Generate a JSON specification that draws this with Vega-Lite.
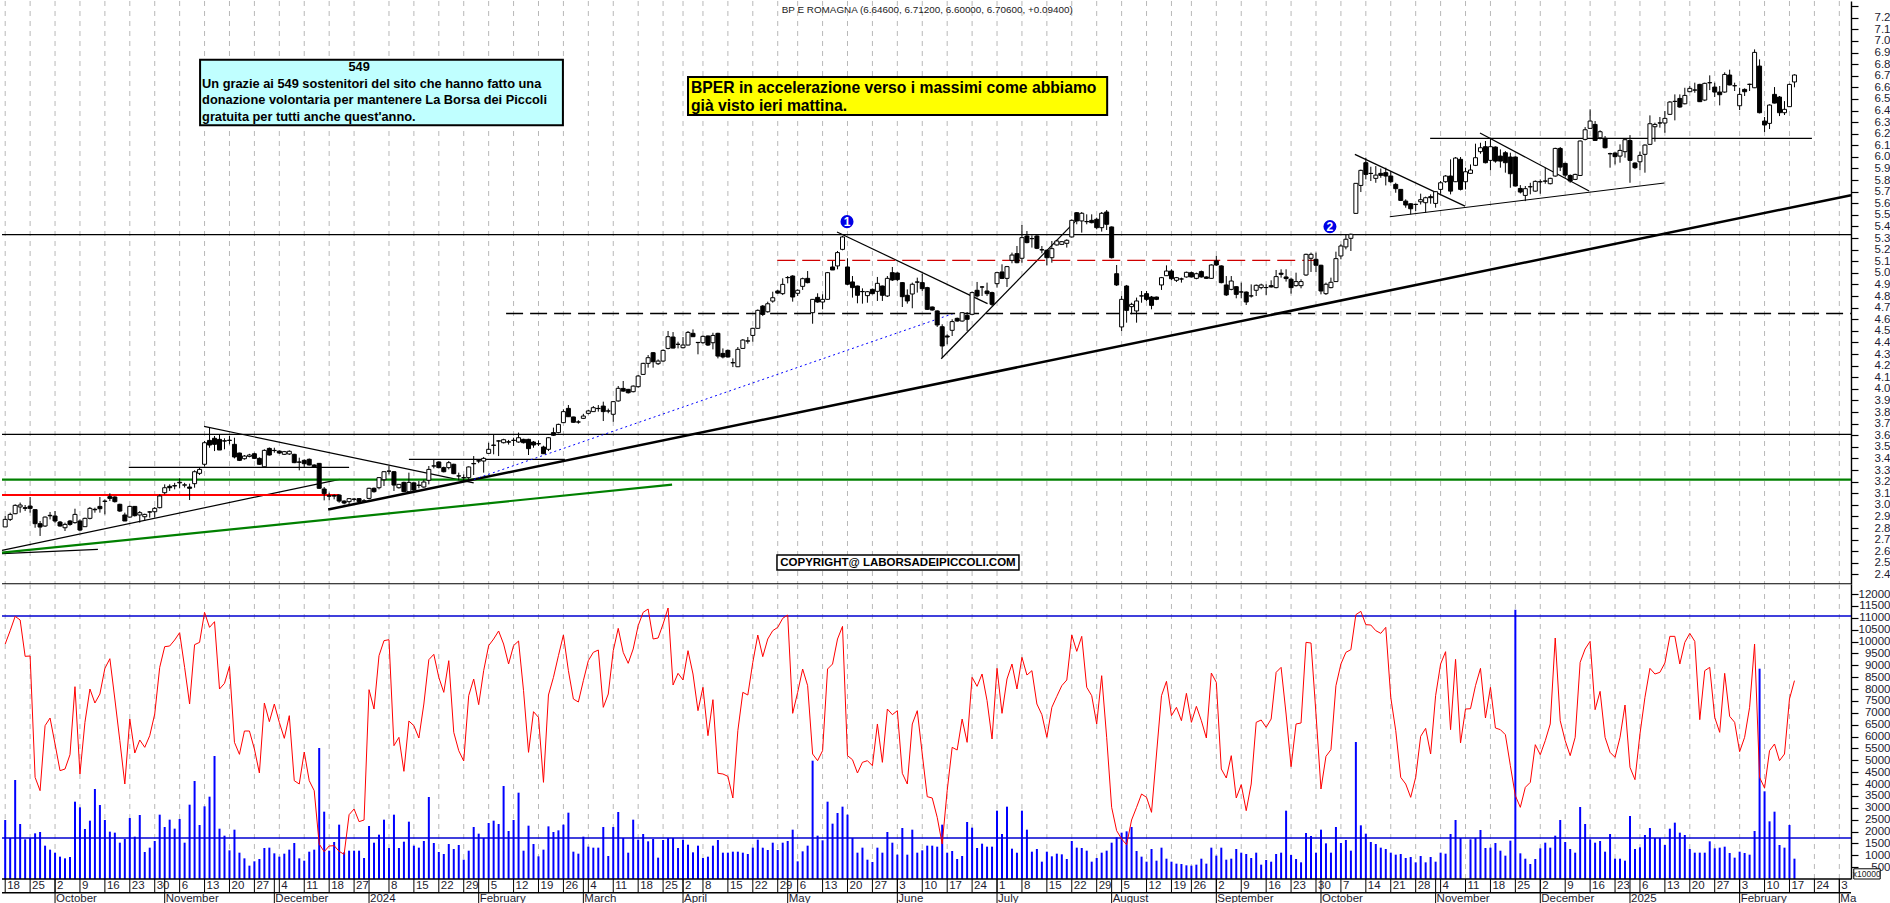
{"$schema":"https://vega.github.io/schema/vega-lite/v6.json","padding":0,"background":"white","spacing":0,"bounds":"flush","config":{"view":{"stroke":null},"text":{"font":"Liberation Sans"},"scale":{"continuousPadding":0}},
"datasets":{
"bars":[
{"i":0,"o":2.81,"h":2.904,"l":2.81,"c":2.875,"s":9898,"v":2485},{"i":1,"o":2.875,"h":2.933,"l":2.861,"c":2.918,"s":10460,"v":1727},{"i":2,"o":2.924,"h":3.005,"l":2.92,"c":2.996,"s":11063,"v":4170},{"i":3,"o":2.982,"h":3.02,"l":2.933,"c":2.999,"s":10909,"v":2317},{"i":4,"o":2.976,"h":2.999,"l":2.947,"c":2.97,"s":9379,"v":1671},{"i":5,"o":2.99,"h":3.068,"l":2.933,"c":2.97,"s":9393,"v":1727},{"i":6,"o":2.959,"h":2.959,"l":2.803,"c":2.838,"s":4282,"v":1923},{"i":7,"o":2.838,"h":2.861,"l":2.732,"c":2.809,"s":3721,"v":1980},{"i":8,"o":2.818,"h":2.9,"l":2.81,"c":2.895,"s":6458,"v":1404},{"i":9,"o":2.91,"h":2.939,"l":2.875,"c":2.906,"s":6781,"v":1236},
{"i":10,"o":2.904,"h":2.947,"l":2.847,"c":2.861,"s":5686,"v":1109},{"i":11,"o":2.852,"h":2.861,"l":2.812,"c":2.818,"s":4563,"v":941},{"i":12,"o":2.803,"h":2.847,"l":2.775,"c":2.832,"s":4633,"v":870},{"i":13,"o":2.861,"h":2.87,"l":2.82,"c":2.832,"s":5237,"v":927},{"i":14,"o":2.847,"h":2.967,"l":2.838,"c":2.918,"s":8101,"v":3257},{"i":15,"o":2.861,"h":2.875,"l":2.775,"c":2.783,"s":4423,"v":3019},{"i":16,"o":2.812,"h":2.89,"l":2.81,"c":2.884,"s":6599,"v":2106},{"i":17,"o":2.884,"h":2.982,"l":2.875,"c":2.97,"s":8003,"v":2457},{"i":18,"o":2.962,"h":2.976,"l":2.933,"c":2.958,"s":7413,"v":3791},{"i":19,"o":2.987,"h":3.068,"l":2.933,"c":2.967,"s":7792,"v":3117},
{"i":20,"o":3.033,"h":3.048,"l":2.918,"c":3.03,"s":8873,"v":2485},{"i":21,"o":3.071,"h":3.1,"l":3.033,"c":3.056,"s":9280,"v":1994},{"i":22,"o":3.068,"h":3.075,"l":3.02,"c":3.028,"s":7582,"v":1952},{"i":23,"o":3.005,"h":3.01,"l":2.94,"c":2.947,"s":5827,"v":1530},{"i":24,"o":2.913,"h":2.933,"l":2.861,"c":2.861,"s":4001,"v":1685},{"i":25,"o":2.895,"h":2.993,"l":2.89,"c":2.987,"s":6739,"v":2569},{"i":26,"o":2.987,"h":2.99,"l":2.9,"c":2.907,"s":5307,"v":1783},{"i":27,"o":2.913,"h":2.947,"l":2.847,"c":2.933,"s":5855,"v":2696},{"i":28,"o":2.898,"h":2.924,"l":2.861,"c":2.918,"s":5546,"v":1137},{"i":29,"o":2.94,"h":2.947,"l":2.89,"c":2.938,"s":6037,"v":1320},
{"i":30,"o":2.941,"h":2.982,"l":2.89,"c":2.97,"s":6950,"v":1601},{"i":31,"o":2.976,"h":3.091,"l":2.97,"c":3.077,"s":8915,"v":2710},{"i":32,"o":3.105,"h":3.177,"l":3.091,"c":3.148,"s":9786,"v":2190},{"i":33,"o":3.16,"h":3.177,"l":3.12,"c":3.148,"s":9814,"v":2499},{"i":34,"o":3.166,"h":3.19,"l":3.134,"c":3.163,"s":10067,"v":2120},{"i":35,"o":3.19,"h":3.229,"l":3.143,"c":3.195,"s":10376,"v":2527},{"i":36,"o":3.17,"h":3.19,"l":3.15,"c":3.173,"s":8915,"v":1530},{"i":37,"o":3.154,"h":3.183,"l":3.042,"c":3.143,"s":7371,"v":3131},{"i":38,"o":3.183,"h":3.298,"l":3.148,"c":3.286,"s":9870,"v":4128},{"i":39,"o":3.272,"h":3.327,"l":3.258,"c":3.306,"s":9968,"v":2274},
{"i":40,"o":3.35,"h":3.551,"l":3.33,"c":3.536,"s":11232,"v":3061},{"i":41,"o":3.556,"h":3.671,"l":3.493,"c":3.516,"s":10600,"v":3468},{"i":42,"o":3.574,"h":3.594,"l":3.464,"c":3.522,"s":10839,"v":5181},{"i":43,"o":3.565,"h":3.608,"l":3.473,"c":3.473,"s":8003,"v":2120},{"i":44,"o":3.553,"h":3.574,"l":3.479,"c":3.55,"s":8241,"v":1825},{"i":45,"o":3.558,"h":3.594,"l":3.522,"c":3.555,"s":8958,"v":1207},{"i":46,"o":3.522,"h":3.579,"l":3.401,"c":3.413,"s":5756,"v":2078},{"i":47,"o":3.447,"h":3.45,"l":3.378,"c":3.384,"s":5251,"v":1109},{"i":48,"o":3.398,"h":3.43,"l":3.39,"c":3.421,"s":6234,"v":870},{"i":49,"o":3.418,"h":3.44,"l":3.41,"c":3.43,"s":6234,"v":562},
{"i":50,"o":3.441,"h":3.45,"l":3.395,"c":3.401,"s":5476,"v":744},{"i":51,"o":3.401,"h":3.41,"l":3.345,"c":3.35,"s":4465,"v":842},{"i":52,"o":3.329,"h":3.479,"l":3.327,"c":3.47,"s":7413,"v":1306},{"i":53,"o":3.487,"h":3.495,"l":3.425,"c":3.43,"s":6627,"v":1320},{"i":54,"o":3.47,"h":3.493,"l":3.45,"c":3.468,"s":7371,"v":1081},{"i":55,"o":3.464,"h":3.47,"l":3.44,"c":3.447,"s":6599,"v":941},{"i":56,"o":3.436,"h":3.465,"l":3.43,"c":3.459,"s":5925,"v":1067},{"i":57,"o":3.439,"h":3.47,"l":3.43,"c":3.462,"s":6880,"v":1236},{"i":58,"o":3.436,"h":3.44,"l":3.36,"c":3.364,"s":4142,"v":1516},{"i":59,"o":3.37,"h":3.407,"l":3.298,"c":3.368,"s":4001,"v":870},
{"i":60,"o":3.384,"h":3.393,"l":3.327,"c":3.355,"s":5349,"v":772},{"i":61,"o":3.393,"h":3.4,"l":3.34,"c":3.344,"s":4142,"v":1151},{"i":62,"o":3.344,"h":3.35,"l":3.32,"c":3.327,"s":3721,"v":1236},{"i":63,"o":3.358,"h":3.36,"l":3.14,"c":3.143,"s":1474,"v":5518},{"i":64,"o":3.137,"h":3.154,"l":3.039,"c":3.097,"s":1151,"v":2836},{"i":65,"o":3.078,"h":3.105,"l":3.039,"c":3.075,"s":1390,"v":1193},{"i":66,"o":3.08,"h":3.091,"l":3.048,"c":3.076,"s":1404,"v":1558},{"i":67,"o":3.085,"h":3.091,"l":3.019,"c":3.033,"s":1165,"v":2289},{"i":68,"o":3.033,"h":3.039,"l":3.005,"c":3.016,"s":1039,"v":1123},{"i":69,"o":3.028,"h":3.056,"l":2.999,"c":3.054,"s":2710,"v":1193},
{"i":70,"o":3.05,"h":3.06,"l":3.03,"c":3.048,"s":2948,"v":1193},{"i":71,"o":3.054,"h":3.058,"l":3.02,"c":3.028,"s":2415,"v":1193},{"i":72,"o":3.035,"h":3.05,"l":3.02,"c":3.033,"s":2485,"v":885},{"i":73,"o":3.056,"h":3.148,"l":3.048,"c":3.143,"s":7975,"v":2232},{"i":74,"o":3.143,"h":3.15,"l":3.105,"c":3.114,"s":7160,"v":1530},{"i":75,"o":3.148,"h":3.24,"l":3.134,"c":3.235,"s":9407,"v":1867},{"i":76,"o":3.217,"h":3.292,"l":3.163,"c":3.286,"s":10039,"v":2499},{"i":77,"o":3.29,"h":3.335,"l":3.263,"c":3.292,"s":10081,"v":1306},{"i":78,"o":3.286,"h":3.292,"l":3.12,"c":3.171,"s":5616,"v":2710},{"i":79,"o":3.148,"h":3.18,"l":3.14,"c":3.177,"s":5967,"v":1306},
{"i":80,"o":3.194,"h":3.2,"l":3.11,"c":3.114,"s":4535,"v":1572},{"i":81,"o":3.114,"h":3.278,"l":3.105,"c":3.194,"s":6655,"v":2415},{"i":82,"o":3.19,"h":3.195,"l":3.12,"c":3.128,"s":6458,"v":1404},{"i":83,"o":3.17,"h":3.206,"l":3.143,"c":3.168,"s":5939,"v":1320},{"i":84,"o":3.154,"h":3.217,"l":3.148,"c":3.197,"s":7371,"v":1601},{"i":85,"o":3.212,"h":3.335,"l":3.177,"c":3.306,"s":9238,"v":3454},{"i":86,"o":3.336,"h":3.393,"l":3.315,"c":3.335,"s":9463,"v":1516},{"i":87,"o":3.37,"h":3.375,"l":3.315,"c":3.321,"s":8494,"v":1137},{"i":88,"o":3.321,"h":3.33,"l":3.28,"c":3.286,"s":7862,"v":1053},{"i":89,"o":3.321,"h":3.378,"l":3.306,"c":3.364,"s":9196,"v":1474},
{"i":90,"o":3.35,"h":3.355,"l":3.265,"c":3.269,"s":6178,"v":1264},{"i":91,"o":3.25,"h":3.278,"l":3.212,"c":3.249,"s":5405,"v":1432},{"i":92,"o":3.235,"h":3.263,"l":3.206,"c":3.234,"s":4970,"v":814},{"i":93,"o":3.235,"h":3.332,"l":3.2,"c":3.327,"s":7722,"v":1193},{"i":94,"o":3.357,"h":3.421,"l":3.258,"c":3.354,"s":8424,"v":2190},{"i":95,"o":3.38,"h":3.39,"l":3.36,"c":3.378,"s":7343,"v":1909},{"i":96,"o":3.378,"h":3.413,"l":3.278,"c":3.401,"s":8775,"v":1727},{"i":97,"o":3.444,"h":3.536,"l":3.441,"c":3.479,"s":9828,"v":2359},{"i":98,"o":3.516,"h":3.608,"l":3.436,"c":3.513,"s":10109,"v":2457},{"i":99,"o":3.552,"h":3.556,"l":3.421,"c":3.55,"s":10446,"v":2317},
{"i":100,"o":3.536,"h":3.57,"l":3.53,"c":3.562,"s":9898,"v":3917},{"i":101,"o":3.544,"h":3.56,"l":3.52,"c":3.541,"s":9056,"v":2022},{"i":102,"o":3.557,"h":3.579,"l":3.508,"c":3.556,"s":9828,"v":2485},{"i":103,"o":3.542,"h":3.623,"l":3.536,"c":3.579,"s":10025,"v":3636},{"i":104,"o":3.565,"h":3.57,"l":3.53,"c":3.536,"s":7933,"v":1193},{"i":105,"o":3.565,"h":3.57,"l":3.43,"c":3.485,"s":5335,"v":2246},{"i":106,"o":3.542,"h":3.551,"l":3.493,"c":3.516,"s":7048,"v":1474},{"i":107,"o":3.528,"h":3.556,"l":3.508,"c":3.526,"s":6809,"v":955},{"i":108,"o":3.499,"h":3.51,"l":3.44,"c":3.441,"s":4072,"v":1236},{"i":109,"o":3.479,"h":3.585,"l":3.464,"c":3.579,"s":7750,"v":2218},
{"i":110,"o":3.623,"h":3.666,"l":3.594,"c":3.6,"s":8494,"v":1980},{"i":111,"o":3.623,"h":3.7,"l":3.617,"c":3.694,"s":9407,"v":2050},{"i":112,"o":3.709,"h":3.824,"l":3.709,"c":3.804,"s":10277,"v":2289},{"i":113,"o":3.832,"h":3.861,"l":3.758,"c":3.76,"s":8775,"v":2794},{"i":114,"o":3.758,"h":3.76,"l":3.71,"c":3.712,"s":7582,"v":1151},{"i":115,"o":3.715,"h":3.73,"l":3.7,"c":3.714,"s":7455,"v":1067},{"i":116,"o":3.746,"h":3.785,"l":3.74,"c":3.766,"s":8354,"v":1783},{"i":117,"o":3.789,"h":3.82,"l":3.78,"c":3.81,"s":9196,"v":1362},{"i":118,"o":3.804,"h":3.852,"l":3.801,"c":3.838,"s":9547,"v":1320},{"i":119,"o":3.832,"h":3.861,"l":3.804,"c":3.83,"s":9645,"v":1320},
{"i":120,"o":3.852,"h":3.89,"l":3.723,"c":3.804,"s":7231,"v":2190},{"i":121,"o":3.81,"h":3.83,"l":3.79,"c":3.809,"s":7792,"v":969},{"i":122,"o":3.781,"h":3.896,"l":3.717,"c":3.89,"s":9617,"v":2190},{"i":123,"o":3.896,"h":4.025,"l":3.89,"c":4.005,"s":10558,"v":2822},{"i":124,"o":4.004,"h":4.068,"l":3.976,"c":3.981,"s":9547,"v":1727},{"i":125,"o":3.996,"h":4.0,"l":3.96,"c":3.967,"s":9084,"v":1109},{"i":126,"o":3.976,"h":4.03,"l":3.97,"c":4.024,"s":9688,"v":2499},{"i":127,"o":4.019,"h":4.12,"l":4.01,"c":4.111,"s":10670,"v":1657},{"i":128,"o":4.125,"h":4.225,"l":4.12,"c":4.22,"s":11232,"v":1895},{"i":129,"o":4.22,"h":4.292,"l":4.183,"c":4.269,"s":11372,"v":1587},
{"i":130,"o":4.312,"h":4.318,"l":4.183,"c":4.234,"s":10109,"v":1685},{"i":131,"o":4.217,"h":4.254,"l":4.206,"c":4.24,"s":10151,"v":899},{"i":132,"o":4.24,"h":4.341,"l":4.234,"c":4.332,"s":10741,"v":1643},{"i":133,"o":4.349,"h":4.499,"l":4.341,"c":4.45,"s":11415,"v":1727},{"i":134,"o":4.447,"h":4.49,"l":4.349,"c":4.352,"s":8171,"v":1727},{"i":135,"o":4.385,"h":4.407,"l":4.349,"c":4.384,"s":8663,"v":1306},{"i":136,"o":4.355,"h":4.447,"l":4.349,"c":4.378,"s":8382,"v":1657},{"i":137,"o":4.378,"h":4.499,"l":4.375,"c":4.487,"s":9617,"v":1446},{"i":138,"o":4.479,"h":4.513,"l":4.447,"c":4.45,"s":8635,"v":1123},{"i":139,"o":4.401,"h":4.404,"l":4.298,"c":4.399,"s":7090,"v":1404},
{"i":140,"o":4.398,"h":4.46,"l":4.39,"c":4.453,"s":8073,"v":885},{"i":141,"o":4.456,"h":4.46,"l":4.37,"c":4.378,"s":6037,"v":941},{"i":142,"o":4.398,"h":4.484,"l":4.341,"c":4.461,"s":7554,"v":1404},{"i":143,"o":4.479,"h":4.484,"l":4.263,"c":4.283,"s":4451,"v":1643},{"i":144,"o":4.306,"h":4.349,"l":4.263,"c":4.275,"s":4423,"v":1109},{"i":145,"o":4.332,"h":4.34,"l":4.27,"c":4.275,"s":4324,"v":1109},{"i":146,"o":4.226,"h":4.263,"l":4.188,"c":4.225,"s":3412,"v":1151},{"i":147,"o":4.191,"h":4.361,"l":4.188,"c":4.341,"s":6248,"v":1151},{"i":148,"o":4.349,"h":4.43,"l":4.346,"c":4.421,"s":7862,"v":1109},{"i":149,"o":4.412,"h":4.447,"l":4.39,"c":4.414,"s":7750,"v":1053},
{"i":150,"o":4.461,"h":4.527,"l":4.407,"c":4.522,"s":9126,"v":1320},{"i":151,"o":4.522,"h":4.685,"l":4.519,"c":4.677,"s":10277,"v":1657},{"i":152,"o":4.714,"h":4.723,"l":4.628,"c":4.642,"s":9365,"v":1320},{"i":153,"o":4.665,"h":4.752,"l":4.657,"c":4.734,"s":10109,"v":1221},{"i":154,"o":4.757,"h":4.838,"l":4.743,"c":4.786,"s":10460,"v":1530},{"i":155,"o":4.844,"h":4.855,"l":4.82,"c":4.826,"s":10600,"v":1221},{"i":156,"o":4.821,"h":4.953,"l":4.809,"c":4.901,"s":10979,"v":1530},{"i":157,"o":4.96,"h":4.973,"l":4.91,"c":4.959,"s":11120,"v":1601},{"i":158,"o":4.973,"h":4.98,"l":4.752,"c":4.792,"s":6978,"v":2078},{"i":159,"o":4.824,"h":4.858,"l":4.801,"c":4.85,"s":7862,"v":744},
{"i":160,"o":4.884,"h":4.959,"l":4.853,"c":4.95,"s":8845,"v":1165},{"i":161,"o":4.953,"h":5.016,"l":4.91,"c":4.916,"s":8143,"v":1404},{"i":162,"o":4.657,"h":4.775,"l":4.562,"c":4.772,"s":5265,"v":4984},{"i":163,"o":4.789,"h":4.824,"l":4.743,"c":4.749,"s":4984,"v":1825},{"i":164,"o":4.749,"h":4.815,"l":4.686,"c":4.772,"s":5405,"v":1629},{"i":165,"o":4.772,"h":5.008,"l":4.769,"c":5.002,"s":8845,"v":3257},{"i":166,"o":5.051,"h":5.103,"l":5.025,"c":5.025,"s":9056,"v":2331},{"i":167,"o":5.06,"h":5.189,"l":5.031,"c":5.175,"s":10109,"v":2780},{"i":168,"o":5.203,"h":5.318,"l":5.195,"c":5.31,"s":10642,"v":3047},{"i":169,"o":5.051,"h":5.126,"l":4.896,"c":4.902,"s":5195,"v":2710},
{"i":170,"o":4.922,"h":4.973,"l":4.787,"c":4.873,"s":5026,"v":1727},{"i":171,"o":4.887,"h":4.89,"l":4.738,"c":4.807,"s":4465,"v":1109},{"i":172,"o":4.84,"h":4.867,"l":4.735,"c":4.838,"s":4914,"v":1320},{"i":173,"o":4.804,"h":4.844,"l":4.743,"c":4.838,"s":4984,"v":814},{"i":174,"o":4.858,"h":4.865,"l":4.815,"c":4.821,"s":4774,"v":716},{"i":175,"o":4.841,"h":4.965,"l":4.758,"c":4.91,"s":6529,"v":1320},{"i":176,"o":4.887,"h":4.89,"l":4.758,"c":4.807,"s":4914,"v":1109},{"i":177,"o":4.801,"h":4.973,"l":4.792,"c":4.953,"s":7160,"v":1980},{"i":178,"o":5.002,"h":5.051,"l":4.93,"c":4.939,"s":6922,"v":1530},{"i":179,"o":4.999,"h":5.005,"l":4.93,"c":4.942,"s":7090,"v":1025},
{"i":180,"o":4.916,"h":4.92,"l":4.706,"c":4.795,"s":4451,"v":2148},{"i":181,"o":4.807,"h":4.858,"l":4.735,"c":4.758,"s":4001,"v":1025},{"i":182,"o":4.818,"h":4.916,"l":4.695,"c":4.902,"s":6529,"v":2078},{"i":183,"o":4.922,"h":4.959,"l":4.83,"c":4.92,"s":7090,"v":1109},{"i":184,"o":4.916,"h":4.993,"l":4.844,"c":4.864,"s":5265,"v":1207},{"i":185,"o":4.873,"h":4.88,"l":4.68,"c":4.686,"s":3468,"v":1404},{"i":186,"o":4.706,"h":4.71,"l":4.675,"c":4.68,"s":3412,"v":1404},{"i":187,"o":4.672,"h":4.677,"l":4.534,"c":4.551,"s":2597,"v":1362},{"i":188,"o":4.536,"h":4.557,"l":4.269,"c":4.37,"s":1474,"v":2289},{"i":189,"o":4.456,"h":4.47,"l":4.384,"c":4.447,"s":3721,"v":1109},
{"i":190,"o":4.505,"h":4.6,"l":4.456,"c":4.58,"s":5546,"v":1179},{"i":191,"o":4.608,"h":4.615,"l":4.58,"c":4.585,"s":5433,"v":842},{"i":192,"o":4.585,"h":4.66,"l":4.58,"c":4.657,"s":6739,"v":969},{"i":193,"o":4.634,"h":4.663,"l":4.499,"c":4.6,"s":5756,"v":2401},{"i":194,"o":4.643,"h":4.838,"l":4.637,"c":4.83,"s":8494,"v":2162},{"i":195,"o":4.85,"h":4.922,"l":4.787,"c":4.801,"s":8115,"v":1306},{"i":196,"o":4.879,"h":4.887,"l":4.801,"c":4.878,"s":8635,"v":1488},{"i":197,"o":4.844,"h":4.916,"l":4.801,"c":4.821,"s":7511,"v":1362},{"i":198,"o":4.83,"h":4.838,"l":4.715,"c":4.729,"s":5897,"v":1362},{"i":199,"o":4.907,"h":5.008,"l":4.873,"c":5.002,"s":8873,"v":2878},
{"i":200,"o":5.008,"h":5.074,"l":4.947,"c":4.953,"s":6978,"v":1895},{"i":201,"o":4.953,"h":5.06,"l":4.879,"c":5.054,"s":8424,"v":3047},{"i":202,"o":5.108,"h":5.175,"l":5.083,"c":5.154,"s":9056,"v":1278},{"i":203,"o":5.166,"h":5.232,"l":5.083,"c":5.088,"s":8003,"v":1109},{"i":204,"o":5.126,"h":5.413,"l":5.088,"c":5.304,"s":9337,"v":2878},{"i":205,"o":5.318,"h":5.361,"l":5.255,"c":5.261,"s":8592,"v":2078},{"i":206,"o":5.295,"h":5.324,"l":5.218,"c":5.296,"s":8775,"v":1151},{"i":207,"o":5.318,"h":5.325,"l":5.205,"c":5.212,"s":7371,"v":1264},{"i":208,"o":5.2,"h":5.232,"l":5.169,"c":5.198,"s":6922,"v":730},{"i":209,"o":5.195,"h":5.2,"l":5.065,"c":5.131,"s":5967,"v":1151},
{"i":210,"o":5.131,"h":5.275,"l":5.088,"c":5.209,"s":7231,"v":955},{"i":211,"o":5.241,"h":5.285,"l":5.235,"c":5.275,"s":7694,"v":1067},{"i":212,"o":5.246,"h":5.275,"l":5.24,"c":5.269,"s":8143,"v":1039},{"i":213,"o":5.255,"h":5.29,"l":5.218,"c":5.281,"s":8382,"v":842},{"i":214,"o":5.31,"h":5.462,"l":5.304,"c":5.453,"s":10277,"v":1601},{"i":215,"o":5.519,"h":5.525,"l":5.419,"c":5.448,"s":9589,"v":1320},{"i":216,"o":5.448,"h":5.525,"l":5.347,"c":5.514,"s":10221,"v":1306},{"i":217,"o":5.443,"h":5.505,"l":5.419,"c":5.441,"s":8073,"v":1193},{"i":218,"o":5.453,"h":5.505,"l":5.427,"c":5.433,"s":7722,"v":730},{"i":219,"o":5.462,"h":5.476,"l":5.376,"c":5.39,"s":6529,"v":885},
{"i":220,"o":5.39,"h":5.525,"l":5.356,"c":5.514,"s":8564,"v":1109},{"i":221,"o":5.525,"h":5.542,"l":5.37,"c":5.419,"s":5967,"v":1193},{"i":222,"o":5.396,"h":5.4,"l":5.125,"c":5.131,"s":3019,"v":1530},{"i":223,"o":4.993,"h":5.068,"l":4.887,"c":4.896,"s":2036,"v":1755},{"i":224,"o":4.534,"h":4.801,"l":4.499,"c":4.772,"s":1685,"v":1952},{"i":225,"o":4.887,"h":4.896,"l":4.571,"c":4.677,"s":1446,"v":2008},{"i":226,"o":4.709,"h":4.743,"l":4.643,"c":4.729,"s":2485,"v":2190},{"i":227,"o":4.672,"h":4.787,"l":4.571,"c":4.758,"s":3019,"v":1179},{"i":228,"o":4.802,"h":4.844,"l":4.743,"c":4.801,"s":3580,"v":941},{"i":229,"o":4.821,"h":4.844,"l":4.758,"c":4.772,"s":3440,"v":730},
{"i":230,"o":4.792,"h":4.801,"l":4.686,"c":4.72,"s":2808,"v":1264},{"i":231,"o":4.792,"h":4.795,"l":4.765,"c":4.772,"s":5265,"v":772},{"i":232,"o":4.896,"h":4.965,"l":4.853,"c":4.959,"s":7722,"v":1320},{"i":233,"o":4.976,"h":5.065,"l":4.973,"c":5.016,"s":8326,"v":856},{"i":234,"o":5.016,"h":5.031,"l":4.936,"c":4.95,"s":6880,"v":730},{"i":235,"o":4.936,"h":4.965,"l":4.922,"c":4.959,"s":7231,"v":646},{"i":236,"o":4.948,"h":4.959,"l":4.916,"c":4.947,"s":6669,"v":632},{"i":237,"o":4.965,"h":5.011,"l":4.959,"c":5.005,"s":7820,"v":576},{"i":238,"o":5.002,"h":5.01,"l":4.96,"c":4.965,"s":6599,"v":562},{"i":239,"o":4.953,"h":5.002,"l":4.945,"c":4.993,"s":7273,"v":604},
{"i":240,"o":5.011,"h":5.02,"l":4.96,"c":4.965,"s":6669,"v":856},{"i":241,"o":4.965,"h":4.97,"l":4.95,"c":4.953,"s":5939,"v":646},{"i":242,"o":4.953,"h":5.074,"l":4.95,"c":5.068,"s":8677,"v":1320},{"i":243,"o":5.103,"h":5.146,"l":5.06,"c":5.068,"s":8284,"v":983},{"i":244,"o":5.06,"h":5.065,"l":4.91,"c":4.916,"s":4633,"v":1320},{"i":245,"o":4.896,"h":4.973,"l":4.801,"c":4.81,"s":4254,"v":814},{"i":246,"o":4.858,"h":4.973,"l":4.85,"c":4.93,"s":5195,"v":856},{"i":247,"o":4.881,"h":4.885,"l":4.781,"c":4.815,"s":3412,"v":1264},{"i":248,"o":4.836,"h":4.916,"l":4.781,"c":4.835,"s":3973,"v":1109},{"i":249,"o":4.835,"h":4.84,"l":4.723,"c":4.749,"s":2878,"v":1053},
{"i":250,"o":4.802,"h":4.901,"l":4.787,"c":4.801,"s":4001,"v":885},{"i":251,"o":4.85,"h":4.9,"l":4.801,"c":4.893,"s":6599,"v":1109},{"i":252,"o":4.873,"h":4.907,"l":4.859,"c":4.896,"s":6697,"v":604},{"i":253,"o":4.874,"h":4.902,"l":4.81,"c":4.873,"s":6388,"v":800},{"i":254,"o":4.89,"h":4.936,"l":4.873,"c":4.879,"s":6739,"v":730},{"i":255,"o":4.873,"h":5.025,"l":4.867,"c":4.968,"s":8705,"v":1053},{"i":256,"o":4.997,"h":5.031,"l":4.959,"c":4.988,"s":8915,"v":1109},{"i":257,"o":4.965,"h":5.031,"l":4.925,"c":4.951,"s":6950,"v":2878},{"i":258,"o":4.945,"h":4.959,"l":4.821,"c":4.873,"s":4731,"v":1011},{"i":259,"o":4.89,"h":5.002,"l":4.882,"c":4.925,"s":6529,"v":842},
{"i":260,"o":4.89,"h":4.945,"l":4.867,"c":4.925,"s":6571,"v":702},{"i":261,"o":4.982,"h":5.166,"l":4.974,"c":5.16,"s":9968,"v":1938},{"i":262,"o":5.126,"h":5.175,"l":5.008,"c":5.16,"s":9940,"v":1811},{"i":263,"o":5.117,"h":5.175,"l":5.008,"c":5.066,"s":6950,"v":1109},{"i":264,"o":5.066,"h":5.07,"l":4.815,"c":4.844,"s":3791,"v":2078},{"i":265,"o":4.821,"h":4.916,"l":4.81,"c":4.902,"s":5167,"v":1502},{"i":266,"o":4.873,"h":4.959,"l":4.867,"c":4.919,"s":5448,"v":1109},{"i":267,"o":4.925,"h":5.183,"l":4.925,"c":5.123,"s":8143,"v":2190},{"i":268,"o":5.146,"h":5.247,"l":5.117,"c":5.232,"s":9056,"v":1516},{"i":269,"o":5.224,"h":5.333,"l":5.203,"c":5.29,"s":9547,"v":1643},
{"i":270,"o":5.298,"h":5.339,"l":5.189,"c":5.333,"s":9660,"v":1193},{"i":271,"o":5.513,"h":5.775,"l":5.51,"c":5.772,"s":11134,"v":5770},{"i":272,"o":5.754,"h":5.89,"l":5.697,"c":5.884,"s":11274,"v":2260},{"i":273,"o":5.95,"h":5.993,"l":5.806,"c":5.849,"s":10713,"v":1909},{"i":274,"o":5.858,"h":5.915,"l":5.792,"c":5.857,"s":10698,"v":1558},{"i":275,"o":5.815,"h":5.921,"l":5.777,"c":5.843,"s":10460,"v":1474},{"i":276,"o":5.858,"h":5.9,"l":5.82,"c":5.841,"s":10347,"v":1320},{"i":277,"o":5.864,"h":5.907,"l":5.754,"c":5.835,"s":10600,"v":1264},{"i":278,"o":5.835,"h":5.878,"l":5.777,"c":5.786,"s":7652,"v":1109},{"i":279,"o":5.763,"h":5.777,"l":5.691,"c":5.726,"s":6248,"v":1025},
{"i":280,"o":5.72,"h":5.72,"l":5.62,"c":5.625,"s":4282,"v":1053},{"i":281,"o":5.619,"h":5.634,"l":5.562,"c":5.585,"s":4001,"v":885},{"i":282,"o":5.596,"h":5.6,"l":5.504,"c":5.553,"s":3440,"v":927},{"i":283,"o":5.591,"h":5.596,"l":5.533,"c":5.59,"s":4282,"v":702},{"i":284,"o":5.613,"h":5.683,"l":5.59,"c":5.631,"s":6009,"v":969},{"i":285,"o":5.605,"h":5.657,"l":5.519,"c":5.648,"s":6346,"v":702},{"i":286,"o":5.657,"h":5.677,"l":5.596,"c":5.648,"s":5265,"v":927},{"i":287,"o":5.599,"h":5.705,"l":5.562,"c":5.7,"s":7722,"v":730},{"i":288,"o":5.72,"h":5.792,"l":5.682,"c":5.777,"s":9056,"v":1109},{"i":289,"o":5.786,"h":5.843,"l":5.777,"c":5.835,"s":9575,"v":1067},
{"i":290,"o":5.835,"h":5.979,"l":5.677,"c":5.705,"s":6290,"v":1895},{"i":291,"o":5.786,"h":5.999,"l":5.783,"c":5.99,"s":9252,"v":2485},{"i":292,"o":5.979,"h":5.999,"l":5.711,"c":5.72,"s":5728,"v":1727},{"i":293,"o":5.786,"h":5.907,"l":5.72,"c":5.872,"s":7160,"v":0},{"i":294,"o":5.858,"h":5.935,"l":5.855,"c":5.887,"s":7174,"v":1671},{"i":295,"o":5.927,"h":6.114,"l":5.921,"c":5.993,"s":8143,"v":1727},{"i":296,"o":6.045,"h":6.122,"l":6.027,"c":6.079,"s":8873,"v":2064},{"i":297,"o":6.088,"h":6.137,"l":5.944,"c":5.95,"s":6781,"v":1306},{"i":298,"o":5.97,"h":6.165,"l":5.884,"c":6.088,"s":8073,"v":1320},{"i":299,"o":6.085,"h":6.09,"l":5.95,"c":5.964,"s":6360,"v":1516},
{"i":300,"o":6.007,"h":6.065,"l":5.907,"c":5.964,"s":6290,"v":1193},{"i":301,"o":6.036,"h":6.05,"l":5.864,"c":5.95,"s":6079,"v":983},{"i":302,"o":5.999,"h":6.036,"l":5.734,"c":5.855,"s":4774,"v":1615},{"i":303,"o":5.999,"h":6.005,"l":5.745,"c":5.749,"s":3510,"v":11344},{"i":304,"o":5.728,"h":5.757,"l":5.685,"c":5.697,"s":3019,"v":1081},{"i":305,"o":5.668,"h":5.749,"l":5.619,"c":5.726,"s":3861,"v":856},{"i":306,"o":5.743,"h":5.777,"l":5.677,"c":5.742,"s":4072,"v":632},{"i":307,"o":5.705,"h":5.797,"l":5.7,"c":5.789,"s":5658,"v":842},{"i":308,"o":5.786,"h":5.806,"l":5.682,"c":5.785,"s":5237,"v":1292},{"i":309,"o":5.792,"h":5.907,"l":5.769,"c":5.791,"s":5827,"v":1530},
{"i":310,"o":5.769,"h":5.82,"l":5.763,"c":5.815,"s":6529,"v":1320},{"i":311,"o":5.835,"h":6.079,"l":5.829,"c":6.073,"s":10151,"v":1825},{"i":312,"o":6.073,"h":6.085,"l":5.878,"c":5.912,"s":6669,"v":2485},{"i":313,"o":5.944,"h":5.95,"l":5.82,"c":5.843,"s":5827,"v":1558},{"i":314,"o":5.84,"h":5.849,"l":5.777,"c":5.792,"s":5195,"v":1264},{"i":315,"o":5.806,"h":5.855,"l":5.8,"c":5.849,"s":5967,"v":1109},{"i":316,"o":5.84,"h":6.142,"l":5.835,"c":6.137,"s":9126,"v":3033},{"i":317,"o":6.151,"h":6.257,"l":6.142,"c":6.234,"s":9688,"v":2317},{"i":318,"o":6.246,"h":6.41,"l":6.243,"c":6.309,"s":10011,"v":1671},{"i":319,"o":6.28,"h":6.309,"l":6.137,"c":6.142,"s":7132,"v":1530},
{"i":320,"o":6.165,"h":6.229,"l":6.151,"c":6.217,"s":7904,"v":1601},{"i":321,"o":6.16,"h":6.18,"l":6.073,"c":6.079,"s":5967,"v":1151},{"i":322,"o":6.028,"h":6.036,"l":5.907,"c":6.027,"s":5335,"v":1895},{"i":323,"o":6.033,"h":6.04,"l":5.935,"c":6.002,"s":5125,"v":856},{"i":324,"o":6.007,"h":6.108,"l":5.95,"c":6.056,"s":5967,"v":856},{"i":325,"o":6.045,"h":6.16,"l":5.993,"c":6.148,"s":7329,"v":772},{"i":326,"o":6.142,"h":6.188,"l":5.777,"c":5.97,"s":4703,"v":2654},{"i":327,"o":5.947,"h":5.953,"l":5.895,"c":5.907,"s":4184,"v":1264},{"i":328,"o":5.958,"h":6.045,"l":5.884,"c":6.013,"s":6107,"v":1334},{"i":329,"o":6.022,"h":6.108,"l":5.864,"c":6.102,"s":7652,"v":1853},
{"i":330,"o":6.108,"h":6.358,"l":6.102,"c":6.286,"s":8873,"v":2148},{"i":331,"o":6.26,"h":6.295,"l":6.131,"c":6.28,"s":8635,"v":1727},{"i":332,"o":6.293,"h":6.344,"l":6.252,"c":6.292,"s":8705,"v":1727},{"i":333,"o":6.292,"h":6.395,"l":6.208,"c":6.332,"s":9098,"v":1432},{"i":334,"o":6.367,"h":6.481,"l":6.361,"c":6.473,"s":10221,"v":2120},{"i":335,"o":6.479,"h":6.539,"l":6.315,"c":6.478,"s":10221,"v":2373},{"i":336,"o":6.504,"h":6.539,"l":6.424,"c":6.43,"s":9056,"v":1952},{"i":337,"o":6.458,"h":6.596,"l":6.453,"c":6.53,"s":9968,"v":1853},{"i":338,"o":6.562,"h":6.611,"l":6.559,"c":6.591,"s":10347,"v":1264},{"i":339,"o":6.577,"h":6.64,"l":6.553,"c":6.576,"s":10011,"v":1109},
{"i":340,"o":6.625,"h":6.63,"l":6.473,"c":6.476,"s":6711,"v":1109},{"i":341,"o":6.49,"h":6.64,"l":6.481,"c":6.634,"s":8775,"v":1109},{"i":342,"o":6.64,"h":6.703,"l":6.576,"c":6.639,"s":8915,"v":1587},{"i":343,"o":6.602,"h":6.64,"l":6.516,"c":6.559,"s":6809,"v":1292},{"i":344,"o":6.559,"h":6.611,"l":6.444,"c":6.536,"s":6178,"v":1320},{"i":345,"o":6.559,"h":6.729,"l":6.553,"c":6.711,"s":8663,"v":1362},{"i":346,"o":6.706,"h":6.752,"l":6.617,"c":6.62,"s":6852,"v":1095},{"i":347,"o":6.614,"h":6.64,"l":6.568,"c":6.613,"s":6599,"v":899},{"i":348,"o":6.441,"h":6.596,"l":6.404,"c":6.539,"s":5363,"v":1151},{"i":349,"o":6.582,"h":6.591,"l":6.525,"c":6.562,"s":5967,"v":1095},
{"i":350,"o":6.626,"h":6.631,"l":6.568,"c":6.625,"s":7231,"v":1025},{"i":351,"o":6.596,"h":6.927,"l":6.593,"c":6.901,"s":9898,"v":2022},{"i":352,"o":6.783,"h":6.841,"l":6.375,"c":6.381,"s":4282,"v":8859},{"i":353,"o":6.309,"h":6.344,"l":6.214,"c":6.275,"s":3833,"v":3693},{"i":354,"o":6.289,"h":6.453,"l":6.24,"c":6.447,"s":5405,"v":2429},{"i":355,"o":6.539,"h":6.602,"l":6.461,"c":6.464,"s":5686,"v":2836},{"i":356,"o":6.516,"h":6.525,"l":6.352,"c":6.381,"s":4984,"v":1432},{"i":357,"o":6.381,"h":6.481,"l":6.361,"c":6.41,"s":5265,"v":1320},{"i":358,"o":6.433,"h":6.631,"l":6.43,"c":6.625,"s":7582,"v":2274},{"i":359,"o":6.646,"h":6.712,"l":6.6,"c":6.706,"s":8354,"v":856}
],
"weeks":[{"i":0,"t":"18"},{"i":5,"t":"25"},{"i":10,"t":"2"},{"i":15,"t":"9"},{"i":20,"t":"16"},{"i":25,"t":"23"},{"i":30,"t":"30"},{"i":35,"t":"6"},{"i":40,"t":"13"},{"i":45,"t":"20"},{"i":50,"t":"27"},{"i":55,"t":"4"},{"i":60,"t":"11"},{"i":65,"t":"18"},{"i":70,"t":"27"},{"i":77,"t":"8"},{"i":82,"t":"15"},{"i":87,"t":"22"},{"i":92,"t":"29"},{"i":97,"t":"5"},{"i":102,"t":"12"},{"i":107,"t":"19"},{"i":112,"t":"26"},{"i":117,"t":"4"},{"i":122,"t":"11"},{"i":127,"t":"18"},{"i":132,"t":"25"},{"i":136,"t":"2"},{"i":140,"t":"8"},{"i":145,"t":"15"},{"i":150,"t":"22"},{"i":155,"t":"29"},{"i":159,"t":"6"},{"i":164,"t":"13"},{"i":169,"t":"20"},{"i":174,"t":"27"},{"i":179,"t":"3"},{"i":184,"t":"10"},{"i":189,"t":"17"},{"i":194,"t":"24"},{"i":199,"t":"1"},{"i":204,"t":"8"},{"i":209,"t":"15"},{"i":214,"t":"22"},{"i":219,"t":"29"},{"i":224,"t":"5"},{"i":229,"t":"12"},{"i":234,"t":"19"},{"i":238,"t":"26"},{"i":243,"t":"2"},{"i":248,"t":"9"},{"i":253,"t":"16"},{"i":258,"t":"23"},{"i":263,"t":"30"},{"i":268,"t":"7"},{"i":273,"t":"14"},{"i":278,"t":"21"},{"i":283,"t":"28"},{"i":288,"t":"4"},{"i":293,"t":"11"},{"i":298,"t":"18"},{"i":303,"t":"25"},{"i":308,"t":"2"},{"i":313,"t":"9"},{"i":318,"t":"16"},{"i":323,"t":"23"},{"i":328,"t":"6"},{"i":333,"t":"13"},{"i":338,"t":"20"},{"i":343,"t":"27"},{"i":348,"t":"3"},{"i":353,"t":"10"},{"i":358,"t":"17"},{"i":363,"t":"24"},{"i":368,"t":"3"}],
"months":[{"i":10,"t":"October"},{"i":32,"t":"November"},{"i":54,"t":"December"},{"i":73,"t":"2024"},{"i":95,"t":"February"},{"i":116,"t":"March"},{"i":136,"t":"April"},{"i":157,"t":"May"},{"i":179,"t":"June"},{"i":199,"t":"July"},{"i":222,"t":"August"},{"i":243,"t":"September"},{"i":264,"t":"October"},{"i":287,"t":"November"},{"i":308,"t":"December"},{"i":326,"t":"2025"},{"i":348,"t":"February"},{"i":368,"t":"Ma"}]
},
"vconcat":[
{"width":1890,"height":583,"layer":[
{"data":{"name":"weeks"},"mark":{"type":"rule","color":"#b8b8b8","strokeWidth":1,"strokeDash":[5,5]},"encoding":{"x":{"field":"i","type":"quantitative","axis":null,"scale":{"domain":[-0.642,378.57],"nice":false,"zero":false}}}},
{"data":{"values":[{"a":-0.64,"b":67.1,"p":2.608,"q":3.22},{"a":-0.64,"b":18.6,"p":2.58,"q":2.617},{"a":39.9,"b":94,"p":3.677,"q":3.19},{"a":24.8,"b":69,"p":3.324,"q":3.324},{"a":81,"b":112.3,"p":3.393,"q":3.393},{"a":166.9,"b":197.1,"p":5.353,"q":4.735},{"a":187.8,"b":214.8,"p":4.26,"q":5.448},{"a":270.8,"b":292.9,"p":6.022,"q":5.576},{"a":277.8,"b":332.9,"p":5.484,"q":5.775},{"a":295.9,"b":317.8,"p":6.206,"q":5.706},{"a":285.9,"b":362.5,"p":6.16,"q":6.16},{"a":-0.64,"b":370.35,"p":3.608,"q":3.608},{"a":-0.64,"b":370.35,"p":5.33,"q":5.33},{"a":-0.64,"b":370.35,"p":2.32,"q":2.32}]},"mark":{"type":"rule","color":"black","strokeWidth":1.2},"encoding":{"x":{"field":"a","type":"quantitative"},"x2":{"field":"b"},"y":{"field":"p","type":"quantitative"},"y2":{"field":"q"}}},
{"data":{"values":[{"a":-0.64,"b":133.8,"p":2.588,"q":3.175},{"a":-0.64,"b":370.35,"p":3.217,"q":3.217}]},"mark":{"type":"rule","color":"#008000","strokeWidth":2.2},"encoding":{"x":{"field":"a","type":"quantitative"},"x2":{"field":"b"},"y":{"field":"p","type":"quantitative"},"y2":{"field":"q"}}},
{"data":{"values":[{"a":-0.64,"b":67,"p":3.085,"q":3.085}]},"mark":{"type":"rule","color":"#ff0000","strokeWidth":2},"encoding":{"x":{"field":"a","type":"quantitative"},"x2":{"field":"b"},"y":{"field":"p","type":"quantitative"},"y2":{"field":"q"}}},
{"data":{"values":[{"a":64.8,"b":370.35,"p":2.96,"q":5.67}]},"mark":{"type":"rule","color":"black","strokeWidth":2.5},"encoding":{"x":{"field":"a","type":"quantitative"},"x2":{"field":"b"},"y":{"field":"p","type":"quantitative"},"y2":{"field":"q"}}},
{"data":{"values":[{"a":94.06,"b":190.2,"p":3.22,"q":4.649}]},"mark":{"type":"rule","color":"#0000ff","strokeWidth":1,"strokeDash":[2,3]},"encoding":{"x":{"field":"a","type":"quantitative"},"x2":{"field":"b"},"y":{"field":"p","type":"quantitative"},"y2":{"field":"q"}}},
{"data":{"values":[{"a":154.9,"b":262.8,"p":5.108,"q":5.108}]},"mark":{"type":"rule","color":"#d00000","strokeWidth":1.4,"strokeDash":[18,7]},"encoding":{"x":{"field":"a","type":"quantitative"},"x2":{"field":"b"},"y":{"field":"p","type":"quantitative"},"y2":{"field":"q"}}},
{"data":{"values":[{"a":100.5,"b":370.35,"p":4.649,"q":4.649}]},"mark":{"type":"rule","color":"black","strokeWidth":1.5,"strokeDash":[17,7]},"encoding":{"x":{"field":"a","type":"quantitative"},"x2":{"field":"b"},"y":{"field":"p","type":"quantitative"},"y2":{"field":"q"}}},
{"data":{"name":"bars"},"mark":{"type":"rule","color":"black","strokeWidth":1},"encoding":{"x":{"field":"i","type":"quantitative"},"y":{"field":"l","type":"quantitative","scale":{"domain":[2.318,7.344],"nice":false,"zero":false},"axis":{"orient":"right","offset":-41,"title":null,"grid":false,"tickCount":200,"values":[2.4,2.5,2.6,2.7,2.8,2.9,3.0,3.1,3.2,3.3,3.4,3.5,3.6,3.7,3.8,3.9,4.0,4.1,4.2,4.3,4.4,4.5,4.6,4.7,4.8,4.9,5.0,5.1,5.2,5.3,5.4,5.5,5.6,5.7,5.8,5.9,6.0,6.1,6.2,6.3,6.4,6.5,6.6,6.7,6.8,6.9,7.0,7.1,7.2,7.3],"format":".1f","labelExpr":"datum.value>7.25?'':datum.label","labelOverlap":false,"labelFlush":false,"labelBound":false,"labelAlign":"right","labelPadding":32,"labelFont":"Liberation Sans","labelFontSize":11.5,"labelColor":"#1c1c30","tickSize":7,"tickColor":"black","tickWidth":1.2,"domainColor":"black","domainWidth":1.4}},"y2":{"field":"h"}}},
{"data":{"name":"bars"},"mark":{"type":"bar","size":4,"stroke":"black","strokeWidth":1},"encoding":{"x":{"field":"i","type":"quantitative"},"y":{"field":"o","type":"quantitative"},"y2":{"field":"c"},"fill":{"condition":{"test":"datum.c>=datum.o","value":"white"},"value":"black"}}},
{"data":{"values":[{"a":39.1,"b":111.9,"p":6.838,"q":6.272}]},"mark":{"type":"rect","fill":"#c0ffff","stroke":"black","strokeWidth":2},"encoding":{"x":{"field":"a","type":"quantitative"},"x2":{"field":"b"},"y":{"field":"p","type":"quantitative"},"y2":{"field":"q"}}},
{"data":{"values":[{"a":137,"b":221.1,"p":6.689,"q":6.361}]},"mark":{"type":"rect","fill":"#ffff00","stroke":"black","strokeWidth":2},"encoding":{"x":{"field":"a","type":"quantitative"},"x2":{"field":"b"},"y":{"field":"p","type":"quantitative"},"y2":{"field":"q"}}},
{"data":{"values":[{"a":154.85,"b":203.4,"p":2.568,"q":2.439}]},"mark":{"type":"rect","fill":"white","stroke":"black","strokeWidth":1.5},"encoding":{"x":{"field":"a","type":"quantitative"},"x2":{"field":"b"},"y":{"field":"p","type":"quantitative"},"y2":{"field":"q"}}},
{"data":{"values":[{"x":39.5,"y":6.628,"t":"Un grazie ai 549 sostenitori del sito che hanno fatto una"},{"x":39.5,"y":6.49,"t":"donazione volontaria per mantenere La Borsa dei Piccoli"},{"x":39.5,"y":6.344,"t":"gratuita per tutti anche quest'anno."}]},"mark":{"type":"text","align":"left","baseline":"middle","fontSize":12.8,"fontWeight":"bold","color":"black"},"encoding":{"x":{"field":"x","type":"quantitative"},"y":{"field":"y","type":"quantitative"},"text":{"field":"t"}}},
{"data":{"values":[{"x":71,"y":6.775,"t":"549"}]},"mark":{"type":"text","align":"center","baseline":"middle","fontSize":12.8,"fontWeight":"bold","color":"black"},"encoding":{"x":{"field":"x","type":"quantitative"},"y":{"field":"y","type":"quantitative"},"text":{"field":"t"}}},
{"data":{"values":[{"x":137.6,"y":6.597,"t":"BPER in accelerazione verso i massimi come abbiamo"},{"x":137.6,"y":6.439,"t":"già visto ieri mattina."}]},"mark":{"type":"text","align":"left","baseline":"middle","fontSize":15.7,"fontWeight":"bold","color":"black"},"encoding":{"x":{"field":"x","type":"quantitative"},"y":{"field":"y","type":"quantitative"},"text":{"field":"t"}}},
{"data":{"values":[{"x":155.5,"y":2.503,"t":"COPYRIGHT@ LABORSADEIPICCOLI.COM"}]},"mark":{"type":"text","align":"left","baseline":"middle","fontSize":11.5,"fontWeight":"bold","color":"black"},"encoding":{"x":{"field":"x","type":"quantitative"},"y":{"field":"y","type":"quantitative"},"text":{"field":"t"}}},
{"data":{"values":[{"x":185,"y":7.266,"t":"BP E ROMAGNA (6.64600, 6.71200, 6.60000, 6.70600, +0.09400)"}]},"mark":{"type":"text","align":"center","baseline":"middle","fontSize":9.9,"color":"#222222"},"encoding":{"x":{"field":"x","type":"quantitative"},"y":{"field":"y","type":"quantitative"},"text":{"field":"t"}}},
{"data":{"values":[{"x":168.9,"y":5.442,"t":"1"},{"x":265.8,"y":5.399,"t":"2"}]},"layer":[{"mark":{"type":"circle","size":170,"color":"#0000e6","opacity":1},"encoding":{"x":{"field":"x","type":"quantitative"},"y":{"field":"y","type":"quantitative"}}},{"mark":{"type":"text","align":"center","baseline":"middle","fontSize":12,"fontWeight":"bold","color":"white"},"encoding":{"x":{"field":"x","type":"quantitative"},"y":{"field":"y","type":"quantitative"},"text":{"field":"t"}}}]}
]},
{"width":1890,"height":295,"layer":[
{"data":{"name":"weeks"},"mark":{"type":"rule","color":"#b8b8b8","strokeWidth":1,"strokeDash":[5,5]},"encoding":{"x":{"field":"i","type":"quantitative","axis":null,"scale":{"domain":[-0.642,378.57],"nice":false,"zero":false}}}},
{"data":{"name":"bars"},"mark":{"type":"rule","color":"#0000ff","strokeWidth":2},"encoding":{"x":{"field":"i","type":"quantitative"},"y":{"field":"v","type":"quantitative","scale":{"domain":[0,12426],"nice":false},"axis":{"orient":"right","offset":-41,"title":null,"grid":false,"tickCount":200,"values":[500,1000,1500,2000,2500,3000,3500,4000,4500,5000,5500,6000,6500,7000,7500,8000,8500,9000,9500,10000,10500,11000,11500,12000],"format":"d","labelOverlap":false,"labelFlush":false,"labelBound":false,"labelAlign":"right","labelPadding":32,"labelFont":"Liberation Sans","labelFontSize":11.5,"labelColor":"#1c1c30","tickSize":7,"tickColor":"black","tickWidth":1.2,"domainColor":"black","domainWidth":1.4}},"y2":{"datum":0}}},
{"data":{"values":[{"a":-0.64,"b":370.35,"p":11078},{"a":-0.64,"b":370.35,"p":1727}]},"mark":{"type":"rule","color":"#0000d0","strokeWidth":1.3},"encoding":{"x":{"field":"a","type":"quantitative"},"x2":{"field":"b"},"y":{"field":"p","type":"quantitative"}}},
{"data":{"name":"bars"},"mark":{"type":"line","color":"#ff0000","strokeWidth":1,"interpolate":"linear"},"encoding":{"x":{"field":"i","type":"quantitative"},"y":{"field":"s","type":"quantitative"}}},
{"data":{"values":[{"a":370.9,"b":376.2,"p":430,"q":0}]},"mark":{"type":"rect","fill":"white","stroke":"black","strokeWidth":1},"encoding":{"x":{"field":"a","type":"quantitative"},"x2":{"field":"b"},"y":{"field":"p","type":"quantitative"},"y2":{"field":"q"}}},
{"data":{"values":[{"x":373.5,"y":215,"t":"x10000"}]},"mark":{"type":"text","align":"center","baseline":"middle","fontSize":8.5,"color":"#222222"},"encoding":{"x":{"field":"x","type":"quantitative"},"y":{"field":"y","type":"quantitative"},"text":{"field":"t"}}}
]},
{"width":1890,"height":25,"layer":[
{"data":{"values":[{"a":-0.64,"b":370.35,"p":0},{"a":-0.64,"b":370.35,"p":13.7}]},"mark":{"type":"rule","color":"black","strokeWidth":1.4},"encoding":{"x":{"field":"a","type":"quantitative","axis":null,"scale":{"domain":[-0.642,378.57],"nice":false,"zero":false}},"x2":{"field":"b"},"y":{"field":"p","type":"quantitative","axis":null,"scale":{"domain":[25,0],"nice":false,"zero":false}}}},
{"data":{"name":"weeks"},"transform":[{"calculate":"0","as":"y0"},{"calculate":"13.7","as":"y1"}],"mark":{"type":"rule","color":"black","strokeWidth":1},"encoding":{"x":{"field":"i","type":"quantitative"},"y":{"field":"y0","type":"quantitative"},"y2":{"field":"y1"}}},
{"data":{"name":"months"},"transform":[{"calculate":"0","as":"y0"},{"calculate":"25","as":"y1"}],"mark":{"type":"rule","color":"black","strokeWidth":1},"encoding":{"x":{"field":"i","type":"quantitative"},"y":{"field":"y0","type":"quantitative"},"y2":{"field":"y1"}}},
{"data":{"name":"weeks"},"transform":[{"calculate":"7","as":"y"}],"mark":{"type":"text","align":"left","baseline":"middle","dx":2,"fontSize":11.5,"color":"#1c1c30"},"encoding":{"x":{"field":"i","type":"quantitative"},"y":{"field":"y","type":"quantitative"},"text":{"field":"t"}}},
{"data":{"name":"months"},"transform":[{"calculate":"20","as":"y"}],"mark":{"type":"text","align":"left","baseline":"middle","dx":1,"fontSize":11.5,"color":"#1c1c30"},"encoding":{"x":{"field":"i","type":"quantitative"},"y":{"field":"y","type":"quantitative"},"text":{"field":"t"}}}
]}
]}
